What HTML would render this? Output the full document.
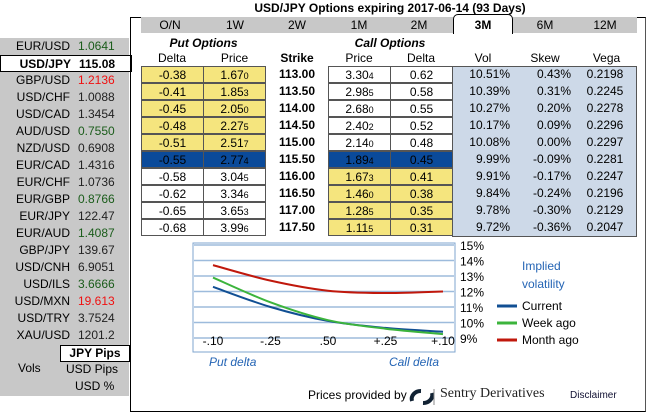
<!DOCTYPE html>
<html><head><meta charset="utf-8"><style>
*{box-sizing:border-box;margin:0;padding:0}
body{width:650px;height:406px;background:#fff;font-family:"Liberation Sans",Arial,sans-serif;font-size:12px;color:#000;position:relative;overflow:hidden}
.abs{position:absolute}
#left{left:0;top:38px;width:129px;height:358px;background:#c8c8c8}
.lrow{position:absolute;left:0;width:129px;height:17px;line-height:17px}
.lrow .p{position:absolute;left:0;width:70px;text-align:right}
.lrow .v{position:absolute;left:78px}
#panel{left:130px;top:17px;width:516px;height:395px;border:1px solid #000;border-right:1px solid #555}
#tabs{left:141px;top:17px;width:496px;height:16px;background:#c8c8c8}
.tab{position:absolute;top:17px;height:16px;line-height:16px;text-align:center;font-size:12px}
.cell{position:absolute;height:17px;line-height:16px;border:1px solid #555;text-align:center}
.hdr{position:absolute;text-align:center;font-size:12px}
small{font-size:9px}
</style></head><body>
<div class="abs" style="left:200px;top:1px;width:380px;text-align:center;font-weight:bold;font-size:12px">USD/JPY Options expiring 2017-06-14 (93 Days)</div>

<div id="left" class="abs"></div>
<div class="abs" style="left:60px;top:345px;width:70px;height:17px;background:#fff;border:1px solid #000;text-align:center;font-weight:bold;line-height:15px">JPY Pips</div>
<div class="abs" style="left:18px;top:361px">Vols</div>
<div class="abs" style="left:66px;top:362px">USD Pips</div>
<div class="abs" style="left:75px;top:379px">USD %</div>

<div id="panel" class="abs"></div>
<div id="tabs" class="abs"></div>
<div class="abs" style="left:453px;top:14px;width:60px;height:20px;background:#fff;border:1px solid #000;border-bottom:none;border-radius:5px 5px 0 0;text-align:center;font-weight:bold;line-height:20px">3M</div>

<div class="hdr" style="left:141px;top:36px;width:125px;font-weight:bold;font-style:italic">Put Options</div>
<div class="hdr" style="left:328px;top:36px;width:124px;font-weight:bold;font-style:italic">Call Options</div>
<div class="hdr" style="left:141px;top:51px;width:62px">Delta</div>
<div class="hdr" style="left:203px;top:51px;width:63px">Price</div>
<div class="hdr" style="left:266px;top:51px;width:62px;font-weight:bold">Strike</div>
<div class="hdr" style="left:328px;top:51px;width:62px">Price</div>
<div class="hdr" style="left:390px;top:51px;width:62px">Delta</div>
<div class="hdr" style="left:452px;top:51px;width:62px">Vol</div>
<div class="hdr" style="left:514px;top:51px;width:62px">Skew</div>
<div class="hdr" style="left:576px;top:51px;width:61px">Vega</div>
<div class="abs" style="left:452px;top:66px;width:185px;height:171px;background:#cdd9e8;border:1px solid #555"></div>
<div id="table"></div>

<svg class="abs" style="left:0;top:0" width="650" height="406" id="chart"></svg>

<div class="abs" style="left:308px;top:388px;font-size:12px">Prices provided by</div>
<svg class="abs" style="left:407px;top:387px" width="30" height="19"><path d="M5 14 A9 8 0 0 1 14 4" stroke="#123" stroke-width="4" fill="none"/><path d="M25 6 A9 8 0 0 1 16 16" stroke="#123" stroke-width="4" fill="none"/><line x1="27" y1="2" x2="27" y2="18" stroke="#888"/></svg>
<div class="abs" style="left:440px;top:386px;font-family:'Liberation Serif',serif;font-size:14px;color:#222">Sentry Derivatives</div>
<div class="abs" style="left:570px;top:390px;font-size:10px;color:#113">Disclaimer</div>

<script>
const pairs=["EUR/USD","USD/JPY","GBP/USD","USD/CHF","USD/CAD","AUD/USD","NZD/USD","EUR/CAD","EUR/CHF","EUR/GBP","EUR/JPY","EUR/AUD","GBP/JPY","USD/CNH","USD/ILS","USD/MXN","USD/TRY","XAU/USD"];
const rates=["1.0641","115.08","1.2136","1.0088","1.3454","0.7550","0.6908","1.4316","1.0736","0.8766","122.47","1.4087","139.67","6.9051","3.6666","19.613","3.7524","1201.2"];
const rateColors=["#1a5c1a","#000","#f01010","#222","#222","#1a5c1a","#222","#222","#222","#1a5c1a","#222","#1a5c1a","#222","#222","#1a5c1a","#f01010","#222","#222"];
const tenors=["O/N","1W","2W","1M","2M","3M","6M","12M"];
const tabCenters=[170,235,297,359,419,483,545,605];
const putDelta=["-0.38","-0.41","-0.45","-0.48","-0.51","-0.55","-0.58","-0.62","-0.65","-0.68"];
const putPrice=["1.67|0","1.85|3","2.05|0","2.27|5","2.51|7","2.77|4","3.04|5","3.34|6","3.65|3","3.99|6"];
const strikes=["113.00","113.50","114.00","114.50","115.00","115.50","116.00","116.50","117.00","117.50"];
const callPrice=["3.30|4","2.98|5","2.68|0","2.40|2","2.14|0","1.89|4","1.67|3","1.46|0","1.28|5","1.11|5"];
const callDelta=["0.62","0.58","0.55","0.52","0.48","0.45","0.41","0.38","0.35","0.31"];
const vols=["10.51%","10.39%","10.27%","10.17%","10.08%","9.99%","9.91%","9.84%","9.78%","9.72%"];
const skews=["0.43%","0.31%","0.20%","0.09%","0.00%","-0.09%","-0.17%","-0.24%","-0.30%","-0.36%"];
const vegas=["0.2198","0.2245","0.2278","0.2296","0.2297","0.2281","0.2247","0.2196","0.2129","0.2047"];
const atmIndex=5;

const left=document.getElementById('left');
pairs.forEach((p,i)=>{
  const r=document.createElement('div');r.className='lrow';
  
  
  r.style.top=(i*17)+'px';
  if(i===1){r.style.background='#fff';r.style.border='1px solid #000';r.style.fontWeight='bold';r.style.width='132px';}
  r.innerHTML='<span class="p">'+p+'</span><span class="v" style="color:'+rateColors[i]+'">'+rates[i]+'</span>';
  left.appendChild(r);
});
tenors.forEach((t,i)=>{
  if(t==="3M")return;
  const d=document.createElement('div');d.className='tab';
  
  
  d.style.left=(tabCenters[i]-25)+'px';d.style.width='50px';d.textContent=t;
  document.body.appendChild(d);
});
const tbl=document.getElementById('table');
function fmt(s){const a=s.split('|');return a[0]+'<small>'+a[1]+'</small>';}
function cell(x,w,y,html,bg,name,color){
  const c=document.createElement('div');c.className='cell';
  
  
  c.style.left=x+'px';c.style.top=y+'px';c.style.width=w+'px';
  if(bg)c.style.background=bg; else c.style.border='none';
  if(color)c.style.color=color;
  c.innerHTML=html;tbl.appendChild(c);return c;
}
strikes.forEach((s,i)=>{
  const y=66+i*17;
  const atm=i===atmIndex;
  const putBg=atm?'#0a4a9a':(i<atmIndex?'#f5e57e':'#fff');
  const callBg=atm?'#0a4a9a':(i>atmIndex?'#f5e57e':'#fff');
  cell(141,63,y,putDelta[i],putBg,'put-delta-'+i);
  cell(203,63,y,fmt(putPrice[i]),putBg,'put-price-'+i);
  const st=cell(266,62,y,s,null,'strike-'+i);st.style.fontWeight='bold';
  cell(328,63,y,fmt(callPrice[i]),callBg,'call-price-'+i);
  cell(390,63,y,callDelta[i],callBg,'call-delta-'+i);
  const v=cell(452,58,y,vols[i],null,'vol-'+i);v.style.textAlign='right';
  const k=cell(514,57,y,skews[i],null,'skew-'+i);k.style.textAlign='right';
  cell(576,58,y,vegas[i],null,'vega-'+i);
});

// chart
const deltaLabels=["-.10","-.25",".50","+.25","+.10"];
const yTicks=[15,14,13,12,11,10,9];
const currentVol=[12.3,11.0,10.1,9.65,9.4];
const weekVol=[12.9,11.3,10.15,9.6,9.25];
const monthVol=[13.7,12.7,12.05,11.9,12.0];
const svg=document.getElementById('chart');
const NS='http://www.w3.org/2000/svg';
const X0=213,X1=443,Ymin=9,Ymax=15,PY0=338,PY1=245;
const xs=i=>X0+(X1-X0)*i/(deltaLabels.length-1);
const ys=v=>PY0-(v-Ymin)*(PY0-PY1)/(Ymax-Ymin);
function el(tag,attrs,txt){const e=document.createElementNS(NS,tag);for(const k in attrs)e.setAttribute(k,attrs[k]);if(txt!==undefined)e.textContent=txt;svg.appendChild(e);return e;}
const box=el('rect',{x:193,y:243,width:262,height:109,fill:'#fff',stroke:'#7fa6cf','stroke-width':1});


yTicks.forEach(t=>{
  const g=el('line',{x1:194,x2:454,y1:ys(t),y2:ys(t),stroke:'#9dbbdc','stroke-width':1.5});
  
  
  const l=el('text',{x:460,y:ys(t)+5,'font-size':12,'font-family':'Liberation Sans, sans-serif'},t+'%');
  
  
});
function smooth(vals){
  const p=vals.map((v,i)=>[xs(i),ys(v)]);
  let d='M'+p[0][0]+' '+p[0][1];
  for(let i=0;i<p.length-1;i++){
    const p0=p[i-1]||p[i],p1=p[i],p2=p[i+1],p3=p[i+2]||p[i+1];
    d+=' C'+(p1[0]+(p2[0]-p0[0])/6)+' '+(p1[1]+(p2[1]-p0[1])/6)+' '+(p2[0]-(p3[0]-p1[0])/6)+' '+(p2[1]-(p3[1]-p1[1])/6)+' '+p2[0]+' '+p2[1];
  }
  return d;
}
[[monthVol,'#c0180c','month-ago-line'],[currentVol,'#114f93','current-line'],[weekVol,'#3cb43c','week-ago-line']].forEach(s=>{
  const pth=el('path',{d:smooth(s[0]),stroke:s[1],'stroke-width':2,fill:'none'});
  
  
});
deltaLabels.forEach((l,i)=>{
  const t=el('text',{x:xs(i),y:345,'text-anchor':'middle','font-size':12,'font-family':'Liberation Sans, sans-serif'},l);
  
  
});
const pd=el('text',{x:209,y:366,'font-size':12,'font-style':'italic',fill:'#2565b5','font-family':'Liberation Sans, sans-serif'},'Put delta');


const cd=el('text',{x:439,y:366,'text-anchor':'end','font-size':12,'font-style':'italic',fill:'#2565b5','font-family':'Liberation Sans, sans-serif'},'Call delta');


const t1=el('text',{x:522,y:270,'font-size':12,fill:'#2565b5','font-family':'Liberation Sans, sans-serif'},'Implied');


const t2=el('text',{x:522,y:288,'font-size':12,fill:'#2565b5','font-family':'Liberation Sans, sans-serif'},'volatility');


[['Current','#114f93',306],['Week ago','#3cb43c',323],['Month ago','#c0180c',340]].forEach(s=>{
  const ln=el('line',{x1:497,x2:517,y1:s[2],y2:s[2],stroke:s[1],'stroke-width':3});
  
  
  const tx=el('text',{x:522,y:s[2]+4,'font-size':12,'font-family':'Liberation Sans, sans-serif'},s[0]);
  
  
});
</script>
</body></html>
